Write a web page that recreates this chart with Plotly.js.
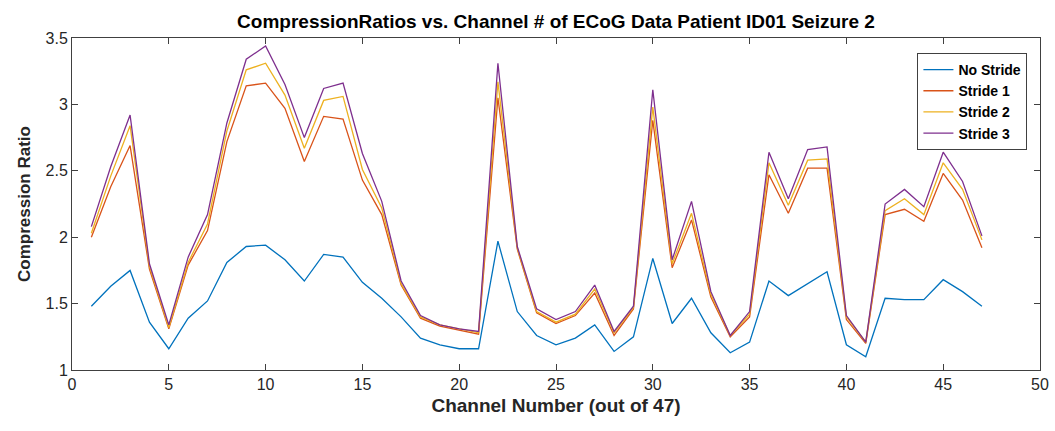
<!DOCTYPE html>
<html>
<head>
<meta charset="utf-8">
<script src="https://cdn.plot.ly/plotly-3.0.1.min.js"></script>
<style>html,body{margin:0;padding:0;background:#fff;}#chart{width:1055px;height:431px;}</style>
</head>
<body>
<div id="chart"></div>
<script>
const channels = Array.from({length: 47}, (_, i) => i + 1);
const seriesNames = ["No Stride", "Stride 1", "Stride 2", "Stride 3"];
const noStride = [1.48,1.63,1.75,1.36,1.16,1.39,1.52,1.81,1.93,1.94,1.83,1.67,1.87,1.85,1.66,1.54,1.40,1.24,1.19,1.16,1.16,1.97,1.44,1.26,1.19,1.24,1.34,1.14,1.25,1.84,1.35,1.54,1.28,1.13,1.21,1.67,1.56,1.65,1.74,1.19,1.10,1.54,1.53,1.53,1.68,1.59,1.48];
const stride1 = [2.00,2.38,2.69,1.76,1.31,1.79,2.05,2.72,3.14,3.16,2.97,2.57,2.91,2.89,2.43,2.17,1.64,1.39,1.33,1.30,1.27,3.05,1.91,1.43,1.35,1.41,1.58,1.26,1.46,2.88,1.77,2.13,1.55,1.25,1.40,2.47,2.18,2.52,2.52,1.38,1.20,2.17,2.21,2.12,2.48,2.28,1.92];
const stride2 = [2.03,2.46,2.84,1.78,1.32,1.81,2.10,2.80,3.26,3.31,3.07,2.67,3.03,3.06,2.51,2.22,1.65,1.40,1.34,1.31,1.28,3.17,1.92,1.44,1.36,1.42,1.61,1.28,1.47,2.98,1.80,2.18,1.57,1.26,1.42,2.56,2.24,2.58,2.59,1.40,1.21,2.20,2.29,2.17,2.56,2.36,1.98];
const stride3 = [2.08,2.53,2.92,1.80,1.34,1.85,2.17,2.86,3.34,3.44,3.15,2.75,3.12,3.16,2.63,2.27,1.67,1.41,1.34,1.31,1.29,3.31,1.93,1.46,1.38,1.44,1.64,1.29,1.48,3.11,1.83,2.27,1.59,1.26,1.44,2.64,2.29,2.66,2.68,1.41,1.21,2.25,2.36,2.23,2.64,2.42,2.01];
const xTicks = [0,5,10,15,20,25,30,35,40,45,50];
const yTicks = [1,1.5,2,2.5,3,3.5];
const colors = ["#0072BD","#D95319","#EDB120","#7E2F8E"];

const allSeries = [noStride, stride1, stride2, stride3];
const traces = allSeries.map((ys, i) => ({
  x: channels, y: ys, type: "scatter", mode: "lines", name: "<b>" + seriesNames[i] + "</b>",
  line: {color: colors[i], width: 1.3}
}));

const font = "Liberation Sans, Arial, sans-serif";
const axisCommon = {
  showline: true, linecolor: "#404040", linewidth: 1, mirror: "ticks",
  ticks: "inside", ticklen: 6, tickcolor: "#404040", tickwidth: 1,
  showgrid: false, zeroline: false
};

const layout = {
  width: 1055, height: 431,
  margin: {l: 72, r: 15, t: 38, b: 61},
  paper_bgcolor: "#fff", plot_bgcolor: "#fff",
  showlegend: true,
  title: {text: "<b>CompressionRatios vs. Channel # of ECoG Data Patient ID01 Seizure 2</b>",
          font: {family: font, size: 19, color: "#000"}, x: 0.527, xanchor: "center", y: 0.95, yanchor: "middle"},
  xaxis: Object.assign({}, axisCommon, {
    range: [0, 50], tickvals: xTicks, ticktext: xTicks.map(String),
    tickfont: {family: font, size: 16, color: "#262626"},
    title: {text: "<b>Channel Number (out of 47)</b>", font: {family: font, size: 19, color: "#262626"}, standoff: 6}
  }),
  yaxis: Object.assign({}, axisCommon, {
    range: [1, 3.5], tickvals: yTicks, ticktext: yTicks.map(String),
    tickfont: {family: font, size: 16, color: "#262626"},
    title: {text: "<b>Compression Ratio</b>", font: {family: font, size: 17, color: "#262626"}, standoff: 10}
  }),
  legend: {
    x: 0.987, xanchor: "right", y: 0.955, yanchor: "top",
    bgcolor: "#fff", bordercolor: "#404040", borderwidth: 1,
    font: {family: font, size: 14, color: "#000"}, tracegroupgap: 0
  }
};
Plotly.newPlot("chart", traces, layout, {displayModeBar: false, staticPlot: true});
</script>
</body>
</html>
